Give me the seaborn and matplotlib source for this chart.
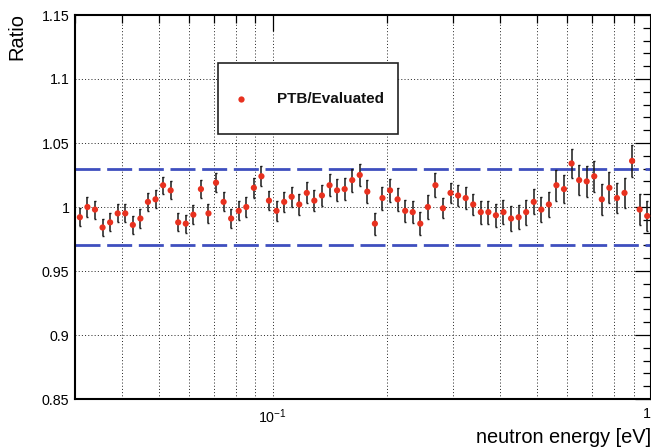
import numpy as np
import pandas as pd
import matplotlib
matplotlib.use("Agg")
import matplotlib.pyplot as plt
import matplotlib.transforms as mtransforms
import seaborn as sns
from matplotlib.patches import Rectangle
from matplotlib.ticker import FixedLocator, FixedFormatter, NullFormatter

# ---------------- data ----------------
energy = [0.03090, 0.03236, 0.03388, 0.03548, 0.03715, 0.03890, 0.04074, 0.04266, 0.04467, 0.04677,
          0.04898, 0.05129, 0.05370, 0.05623, 0.05888, 0.06166, 0.06457, 0.06761, 0.07079, 0.07413,
          0.07762, 0.08128, 0.08511, 0.08913, 0.09333, 0.09772, 0.1023, 0.1072, 0.1122, 0.1175,
          0.1230, 0.1288, 0.1349, 0.1413, 0.1479, 0.1549, 0.1622, 0.1698, 0.1778, 0.1862,
          0.1950, 0.2042, 0.2138, 0.2239, 0.2344, 0.2455, 0.2570, 0.2692, 0.2818, 0.2951,
          0.3090, 0.3236, 0.3388, 0.3548, 0.3715, 0.3890, 0.4074, 0.4266, 0.4467, 0.4677,
          0.4898, 0.5129, 0.5370, 0.5623, 0.5888, 0.6166, 0.6457, 0.6761, 0.7079, 0.7413,
          0.7762, 0.8128, 0.8511, 0.8913, 0.9333, 0.9772]

ratio = [0.992, 1.000, 0.998, 0.984, 0.988, 0.995, 0.995, 0.986, 0.991, 1.004,
         1.006, 1.017, 1.013, 0.988, 0.987, 0.994, 1.014, 0.995, 1.019, 1.004,
         0.991, 0.997, 1.000, 1.015, 1.024, 1.005, 0.997, 1.004, 1.008, 1.002,
         1.011, 1.005, 1.009, 1.017, 1.013, 1.014, 1.021, 1.025, 1.012, 0.987,
         1.007, 1.013, 1.006, 0.997, 0.996, 0.987, 1.000, 1.017, 0.999, 1.011,
         1.009, 1.007, 1.002, 0.996, 0.996, 0.9935, 0.996, 0.991, 0.992, 0.996,
         1.004, 0.998, 1.002, 1.017, 1.014, 1.034, 1.021, 1.020, 1.024, 1.006,
         1.015, 1.007, 1.011, 1.036, 0.998, 0.993]

ratio_err = [0.0072, 0.0075, 0.0070, 0.0070, 0.0070, 0.0070, 0.0070, 0.0070, 0.0072, 0.0072,
             0.0070, 0.0068, 0.0070, 0.0070, 0.0070, 0.0072, 0.0072, 0.0072, 0.0072, 0.0075,
             0.0075, 0.0075, 0.0075, 0.0078, 0.0078, 0.0075, 0.0078, 0.0080, 0.0080, 0.0080,
             0.0082, 0.0082, 0.0085, 0.0087, 0.0087, 0.0088, 0.0090, 0.0087, 0.0090, 0.0086,
             0.0090, 0.0090, 0.0090, 0.0087, 0.0088, 0.0088, 0.0090, 0.0092, 0.0078, 0.0080,
             0.0082, 0.0085, 0.0085, 0.0090, 0.0090, 0.0092, 0.0095, 0.0095, 0.0095, 0.0098,
             0.0098, 0.0100, 0.0100, 0.0120, 0.0110, 0.0117, 0.0120, 0.0120, 0.0120, 0.0120,
             0.0120, 0.0120, 0.0120, 0.0124, 0.0120, 0.0120]

band_levels = [0.97, 1.03]
legend_label = "PTB/Evaluated"
y_ticks = [0.85, 0.9, 0.95, 1.0, 1.05, 1.1, 1.15]
y_ticklabels = ["0.85", "0.9", "0.95", "1", "1.05", "1.1", "1.15"]
x_major = [0.1, 1.0]
x_major_labels = [r"$10^{-1}$", "1"]
x_minor = [0.03, 0.04, 0.05, 0.06, 0.07, 0.08, 0.09, 0.2, 0.3, 0.4, 0.5, 0.6, 0.7, 0.8, 0.9]

df = pd.DataFrame({"energy": energy, "ratio": ratio, "err": ratio_err})

# ---------------- style ----------------
sns.set_theme(style="white")
plt.rcParams["font.family"] = ["Liberation Sans", "DejaVu Sans"]
plt.rcParams["mathtext.fontset"] = "custom"
plt.rcParams["mathtext.rm"] = "Liberation Sans"
plt.rcParams["mathtext.it"] = "Liberation Sans"
plt.rcParams["lines.scale_dashes"] = False

RED = "#e8311f"
BLUE = "#3f4fbf"

fig = plt.figure(figsize=(6.51, 4.48), dpi=100)
ax = fig.add_axes([75 / 651, 1 - 399 / 448, 576 / 651, 384 / 448])
ax.set_xscale("log")
ax.set_xlim(0.03, 1.0)
ax.set_ylim(0.85, 1.15)

# grid (dotted) at all x ticks and y major ticks
grid_kw = dict(color="#222222", linewidth=0.7, linestyle=(0, (0.7, 1.6)), zorder=0.5)
for xv in x_major + x_minor:
    ax.axvline(xv, **grid_kw)
for yv in y_ticks:
    ax.axhline(yv, **grid_kw)

# dashed band
for lv in band_levels:
    ax.axhline(lv, color=BLUE, linewidth=2.0, linestyle=(0, (18, 4.8)), zorder=2)

# error bars
ax.errorbar(df["energy"], df["ratio"], yerr=df["err"], fmt="none",
            ecolor="#1a1a1a", elinewidth=1.1, capsize=1.0, capthick=1.0, zorder=3)
# points
sns.scatterplot(data=df, x="energy", y="ratio", ax=ax, color=RED, s=20,
                edgecolor="none", linewidth=0, zorder=4, legend=False)

# ticks
ax.yaxis.set_major_locator(FixedLocator(y_ticks))
ax.yaxis.set_major_formatter(FixedFormatter(y_ticklabels))
ax.yaxis.set_minor_locator(FixedLocator([round(0.85 + 0.01 * k, 2) for k in range(31)]))
ax.xaxis.set_major_locator(FixedLocator(x_major))
ax.xaxis.set_major_formatter(FixedFormatter(x_major_labels))
ax.xaxis.set_minor_locator(FixedLocator(x_minor))
ax.xaxis.set_minor_formatter(NullFormatter())

ax.tick_params(axis="both", which="both", direction="in", top=True, right=True,
               color="black", labelsize=10.3, labelcolor="black")
ax.tick_params(axis="both", which="major", length=11.5, width=0.9)
ax.tick_params(axis="both", which="minor", length=5.8, width=0.9)
ax.tick_params(axis="y", which="major", pad=4)
ax.tick_params(axis="x", which="major", pad=6)

for sp in ax.spines.values():
    sp.set_color("black")
    sp.set_linewidth(1.5)
    sp.set_visible(True)

ax.set_xlabel("neutron energy [eV]", fontsize=14.4, color="black", ha="right", va="top")
ax.xaxis.set_label_coords(1.0, -0.075)
ax.set_ylabel("Ratio", fontsize=14.4, color="black", ha="right", va="bottom")
ax.yaxis.set_label_coords(-0.085, 1.005)

# keep the "1" label fully inside the canvas
fig.canvas.draw()
for lbl in ax.get_xticklabels():
    if lbl.get_text() == "1":
        lbl.set_transform(lbl.get_transform() +
                          mtransforms.ScaledTranslation(-4 / 100, 0, fig.dpi_scale_trans))

# legend box (ROOT-like TLegend)
px2ax_x = lambda px: (px - 75) / 576
px2ax_y = lambda py: (399 - py) / 384
box = Rectangle((px2ax_x(218), px2ax_y(134)), 180 / 576, 71 / 384,
                transform=ax.transAxes, facecolor="white", edgecolor="#222222",
                linewidth=1.2, zorder=6)
ax.add_patch(box)
ax.plot([px2ax_x(240.7)], [px2ax_y(98.7)], marker="o", color=RED, markersize=4.5,
        markeredgewidth=0, transform=ax.transAxes, zorder=7)
ax.text(px2ax_x(277), px2ax_y(98.7), legend_label, transform=ax.transAxes,
        fontsize=11, fontweight="bold", color="#111111", ha="left", va="center", zorder=7)

fig.savefig("out.png", dpi=100, facecolor="white")
